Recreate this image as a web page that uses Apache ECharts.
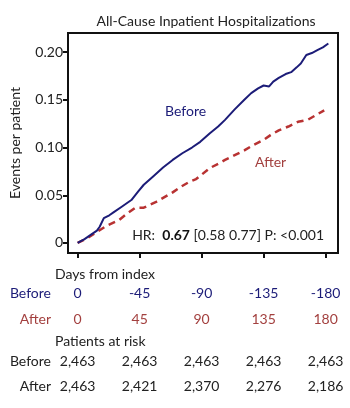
<!DOCTYPE html>
<html>
<head>
<meta charset="utf-8">
<script src="https://cdn.jsdelivr.net/npm/echarts@6/dist/echarts.min.js"></script>
<style>
  html, body { margin: 0; padding: 0; background: #fff; }
  #chart { width: 350px; height: 408px; }
</style>
</head>
<body>
<div id="chart"></div>
<script>
var beforeDays = [0, 5, 10, 14, 16, 19, 23, 26, 32, 39, 44, 48, 55, 62, 69, 76, 83, 89, 96, 102, 107, 114, 121, 126, 131, 135, 139, 142, 146, 151, 155, 159, 162, 166, 170, 174, 178, 182];
var beforeValues = [0, 0.004, 0.009, 0.013, 0.017, 0.026, 0.029, 0.032, 0.038, 0.045, 0.054, 0.061, 0.070, 0.079, 0.087, 0.094, 0.100, 0.106, 0.115, 0.122, 0.129, 0.140, 0.150, 0.157, 0.162, 0.165, 0.164, 0.169, 0.173, 0.177, 0.179, 0.184, 0.188, 0.197, 0.199, 0.202, 0.205, 0.209];
var afterDays = [0, 7, 14, 21, 30, 36, 42, 48, 57, 63, 69, 75, 81, 86, 96, 102, 107, 114, 121, 128, 135, 140, 146, 153, 160, 167, 173, 179];
var afterValues = [0, 0.005, 0.0115, 0.018, 0.024, 0.031, 0.037, 0.037, 0.043, 0.048, 0.053, 0.059, 0.064, 0.067, 0.0785, 0.083, 0.087, 0.092, 0.097, 0.103, 0.108, 0.113, 0.118, 0.122, 0.127, 0.129, 0.134, 0.139];

var tickDays = [0, 45, 90, 135, 180];
var beforeDayLabels = ['0', '-45', '-90', '-135', '-180'];
var afterDayLabels = ['0', '45', '90', '135', '180'];
var beforeAtRisk = ['2,463', '2,463', '2,463', '2,463', '2,463'];
var afterAtRisk = ['2,463', '2,421', '2,370', '2,276', '2,186'];
var yTicks = [0, 0.05, 0.10, 0.15, 0.20];

var FONT = 'Lato';
var FS = 14;
var NAVY = '#1c1c78';
var RED = '#b83232';
var RED_TEXT = '#a3403f';

function zip(xs, ys) {
  return xs.map(function (x, i) { return [x, ys[i]]; });
}

function tableAxis(labels, color, offset, rowName) {
  return {
    type: 'value',
    position: 'bottom',
    min: -7,
    max: 189,
    offset: offset,
    axisLine: { show: false, onZero: false },
    axisTick: { show: false },
    splitLine: { show: false },
    name: rowName,
    nameLocation: 'start',
    nameGap: 17,
    nameTextStyle: { color: color, fontFamily: FONT, fontSize: FS, align: 'right', verticalAlign: 'middle' },
    axisLabel: {
      customValues: tickDays,
      margin: 0,
      color: color,
      fontFamily: FONT,
      fontSize: FS,
      verticalAlign: 'middle',
      formatter: function (v) { return labels[tickDays.indexOf(v)]; }
    }
  };
}

var dom = document.getElementById('chart');
var myChart = echarts.init(dom, null, { renderer: 'canvas' });

var option = {
  animation: false,
  backgroundColor: '#fff',
  title: {
    text: 'All-Cause Inpatient Hospitalizations',
    left: 201,
    textAlign: 'center',
    top: 9,
    textStyle: { fontFamily: FONT, fontSize: FS, fontWeight: 'normal', color: '#222' }
  },
  grid: { left: 63, right: 12, top: 33, bottom: 155, show: true, borderColor: '#111', borderWidth: 2, backgroundColor: 'transparent' },
  xAxis: [
    {
      type: 'value',
      min: -7,
      max: 189,
      axisLine: { show: true, onZero: false, lineStyle: { color: '#111', width: 2 } },
      axisTick: { show: true, customValues: tickDays, length: 5, lineStyle: { color: '#111', width: 2 } },
      axisLabel: { show: false },
      splitLine: { show: false }
    },
    tableAxis(beforeDayLabels, NAVY, 40, 'Before'),
    tableAxis(afterDayLabels, RED_TEXT, 66, 'After'),
    tableAxis(beforeAtRisk, '#222', 108, 'Before'),
    tableAxis(afterAtRisk, '#222', 133, 'After')
  ],
  yAxis: {
    type: 'value',
    min: -0.0105,
    max: 0.22,
    name: 'Events per patient',
    nameLocation: 'middle',
    nameGap: 46,
    nameTextStyle: { fontFamily: FONT, fontSize: FS, color: '#222' },
    axisLine: { show: true, onZero: false, lineStyle: { color: '#111', width: 2 } },
    axisTick: { show: true, customValues: yTicks, length: 5, lineStyle: { color: '#111', width: 2 } },
    axisLabel: {
      customValues: yTicks,
      margin: 5,
      fontFamily: FONT,
      fontSize: FS,
      color: '#222',
      formatter: function (v) { return v === 0 ? '0' : v.toFixed(2); }
    },
    splitLine: { show: false }
  },
  graphic: [
    { type: 'text', left: 165, top: 104, style: { text: 'Before', fill: NAVY, font: FS + 'px Lato' } },
    { type: 'text', left: 255, top: 155, style: { text: 'After', fill: RED_TEXT, font: FS + 'px Lato' } },
    {
      type: 'text', right: 26, top: 228,
      style: {
        text: '{n|HR:  }{b|0.67}{n| [0.58 0.77] P: <0.001}',
        rich: {
          n: { fontFamily: FONT, fontSize: FS, fill: '#222' },
          b: { fontFamily: FONT, fontSize: FS, fontWeight: 'bold', fill: '#111' }
        }
      }
    },
    { type: 'text', left: 55, top: 267, style: { text: 'Days from index', fill: '#222', font: FS + 'px Lato' } },
    { type: 'text', left: 55, top: 334, style: { text: 'Patients at risk', fill: '#222', font: FS + 'px Lato' } }
  ],
  series: [
    {
      name: 'Before',
      type: 'line',
      data: zip(beforeDays, beforeValues),
      showSymbol: false,
      lineStyle: { color: NAVY, width: 2 },
      z: 3
    },
    {
      name: 'After',
      type: 'line',
      data: zip(afterDays, afterValues),
      showSymbol: false,
      lineStyle: { color: RED, width: 2.5, type: [7, 5] },
      z: 2
    }
  ]
};

if (option && typeof option === 'object') {
  myChart.setOption(option);
}

window.addEventListener('resize', myChart.resize);
</script>
</body>
</html>
